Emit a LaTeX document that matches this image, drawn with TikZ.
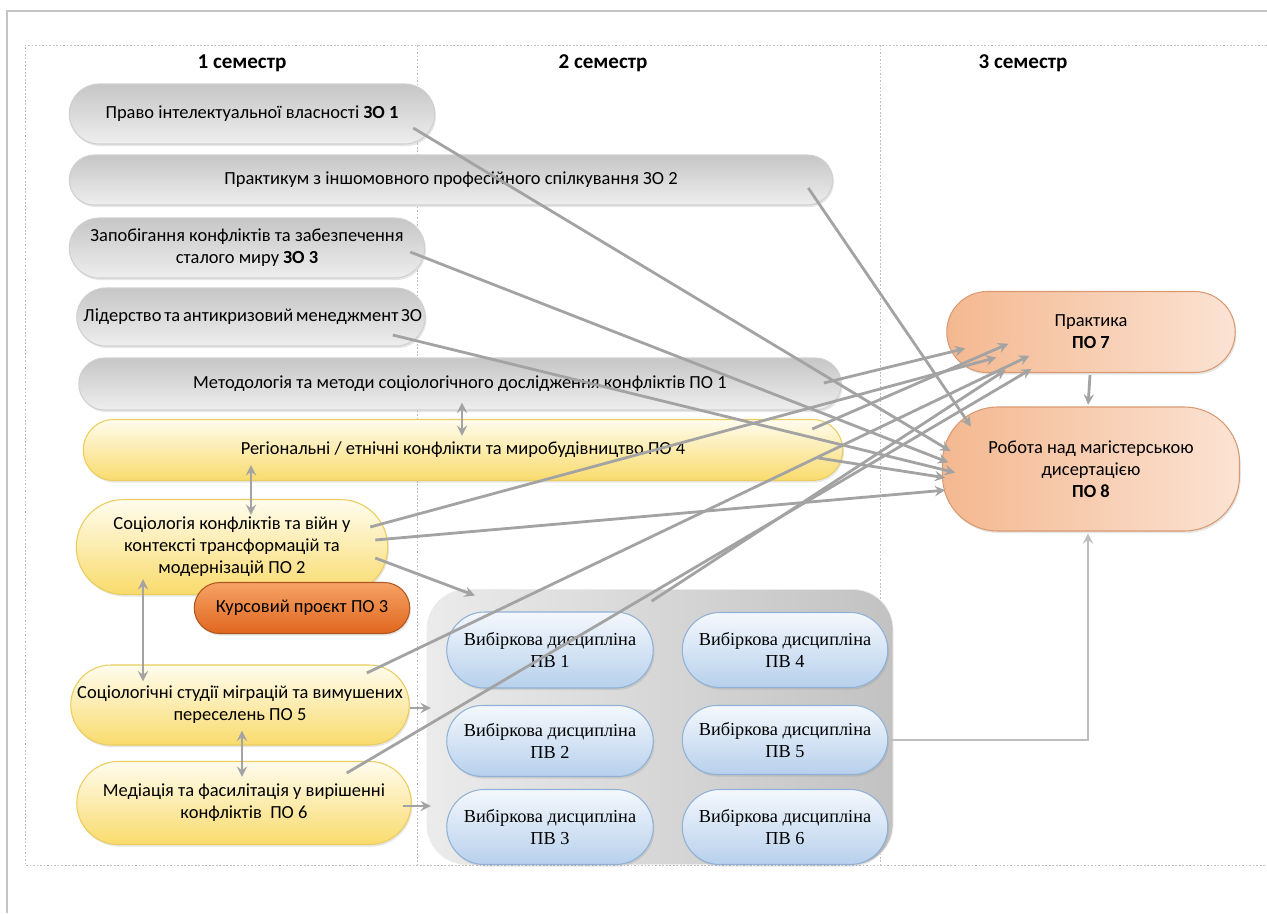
\documentclass[tikz,border=0pt]{standalone}
\usepackage{fontspec}
\setmainfont{Carlito}
\newfontfamily\pvfont{Liberation Serif}
\usetikzlibrary{shapes.misc,shadows}

\definecolor{pageline}{HTML}{C4C4C4}
\definecolor{gridline}{HTML}{BEBEBE}
\definecolor{arrowgrey}{HTML}{A3A3A3}
\definecolor{greyline}{HTML}{D0D0D0}
\definecolor{greytop}{HTML}{C6C6C6}
\definecolor{greybot}{HTML}{EEEEEE}
\definecolor{ylwline}{HTML}{EACD5C}
\definecolor{ylwtop}{HTML}{FFFCEE}
\definecolor{ylwbot}{HTML}{F9DB6C}
\definecolor{ornline}{HTML}{B0561F}
\definecolor{orntop}{HTML}{F6A366}
\definecolor{ornbot}{HTML}{E0661E}
\definecolor{peachline}{HTML}{D99A72}
\definecolor{peachdark}{HTML}{F4B890}
\definecolor{peachlight}{HTML}{FBE3D4}
\definecolor{blueline}{HTML}{8FB1D6}
\definecolor{bluetop}{HTML}{F4F8FD}
\definecolor{bluebot}{HTML}{B7D0EC}
\definecolor{grouplight}{HTML}{EBEBEB}
\definecolor{groupdark}{HTML}{C2C2C2}

\begin{document}
\begin{tikzpicture}[x=0.2mm,y=-0.2mm,>=stealth,font=\fontsize{10.5}{12.5}\selectfont,
    boxsize/.style 2 args={minimum width=#1*0.2mm,minimum height=#2*0.2mm},
    shade/.style={drop shadow={opacity=.2,shadow xshift=.7pt,shadow yshift=-1.2pt}},
    pill/.style={rounded rectangle,align=center,inner sep=1pt,line width=.6pt,shade},
    sem head/.style={font=\bfseries\fontsize{12}{14}\selectfont},
    grey node/.style={pill,draw=greyline,top color=greytop,bottom color=greybot},
    yellow node/.style={pill,draw=ylwline,top color=ylwtop,bottom color=ylwbot},
    course node/.style={pill,draw=ornline,top color=orntop,bottom color=ornbot},
    peach node/.style={pill,draw=peachline,left color=peachdark,right color=peachlight},
    blue node/.style={pill,draw=blueline,top color=bluetop,bottom color=bluebot,font=\pvfont\fontsize{10.4}{12}\selectfont},
    group box/.style={rectangle,rounded corners=8mm,draw=grouplight,left color=grouplight,right color=groupdark},
    grid/.style={gridline,line width=.4pt,dash pattern=on 1pt off 1pt},
    conn/.style={->,color=arrowgrey,line width=1.6pt,shorten >=1pt},
    both/.style={<->,color=arrowgrey,line width=1.6pt}]

    \useasboundingbox (0,0) rectangle (1267,913);
    \draw[pageline,line width=.8pt] (7,913) -- (7,11) -- (1267,11);
    \draw[grid] (1267,45) -- (25,45) -- (25,865) -- (1267,865);
    \draw[grid] (417,45) -- (417,865);
    \draw[grid] (880,45) -- (880,865);

    % semesters
    \node[sem head] (s1) at (242,63) {1 семестр};
    \node[sem head] (s2) at (603,63) {2 семестр};
    \node[sem head] (s3) at (1023,63) {3 семестр};

    % first semester
    \node[grey node,boxsize={369}{60}] (zo1) at (252,114) {Право інтелектуальної власності \textbf{ЗО 1}};
    \node[grey node,boxsize={767}{50}] (zo2) at (451,180) {Практикум з іншомовного професійного спілкування ЗО 2};
    \node[grey node,boxsize={359}{60}] (zo3) at (247,248) {Запобігання конфліктів та забезпечення\\сталого миру \textbf{ЗО 3}};
    \node[grey node,boxsize={352}{58}] (zo4) at (251,317) {\makebox[67mm][s]{Лідерство та антикризовий менеджмент ЗО}};
    \node[grey node,boxsize={766}{52}] (po1) at (460,384) {Методологія та методи соціологічного дослідження конфліктів ПО 1};
    \node[yellow node,boxsize={763}{61}] (po4) at (463,450) {Регіональні / етнічні конфлікти та миробудівництво ПО 4};
    \node[yellow node,boxsize={315}{95}] (po2) at (232,547) {Соціологія конфліктів та війн у\\контексті трансформацій та\\модернізацій ПО 2};
    \node[course node,boxsize={219}{51}] (po3) at (302,608) {Курсовий проєкт ПО 3};
    \node[yellow node,boxsize={330}{80}] (po5) at (240,705) {Соціологічні студії міграцій та вимушених\\переселень ПО 5};
    \node[yellow node,boxsize={338}{83}] (po6) at (244,803) {Медіація та фасилітація у вирішенні\\конфліктів\ \ ПО 6};

    % electives
    \node[group box,boxsize={466}{275}] (pv) at (660,727) {};
    \node[blue node,boxsize={210}{76}] (pv1) at (550,650) {Вибіркова дисципліна\\ПВ 1};
    \node[blue node,boxsize={210}{71}] (pv2) at (550,741) {Вибіркова дисципліна\\ПВ 2};
    \node[blue node,boxsize={210}{75}] (pv3) at (550,827) {Вибіркова дисципліна\\ПВ 3};
    \node[blue node,boxsize={209}{75}] (pv4) at (785,650) {Вибіркова дисципліна\\ПВ 4};
    \node[blue node,boxsize={209}{69}] (pv5) at (785,740) {Вибіркова дисципліна\\ПВ 5};
    \node[blue node,boxsize={209}{75}] (pv6) at (785,827) {Вибіркова дисципліна\\ПВ 6};

    % third semester
    \node[peach node,boxsize={292}{81}] (po7) at (1091,332) {Практика\\\textbf{ПО 7}};
    \node[peach node,rectangle,rounded corners=11mm,boxsize={297}{124}] (po8) at (1091,469) {Робота над магістерською\\дисертацією\\\textbf{ПО 8}};

    \path[conn]
        ([shift={(-22,14)}]zo1.east) edge ([shift={(10,-17)}]po8.west)
        ([shift={(-25,8)}]zo2.east) edge ([shift={(30,-41)}]po8.west)
        ([shift={(-15,4)}]zo3.east) edge ([shift={(8,-6)}]po8.west)
        ([shift={(-33,18)}]zo4.east) edge ([shift={(15,4)}]po8.west)
        ([shift={(-25,8)}]po4.east) edge ([shift={(5,9)}]po8.west)
        ([shift={(-13,-7)}]po2.east) edge ([shift={(5,21)}]po8.west)

        ([shift={(-18,-1)}]po1.east) edge ([shift={(-124,-25)}]po7.south)
        ([shift={(-31,-21)}]po4.east) edge ([shift={(-81,-30)}]po7.south)
        ([shift={(-18,-20)}]po2.east) edge ([shift={(-93,-16)}]po7.south)
        ([shift={(-43,-32)}]po5.east) edge ([shift={(-60,-18)}]po7.south)
        ([shift={(-65,-30)}]po6.east) edge ([shift={(-58,-5)}]po7.south)
        ([shift={(225,12)}]pv.north west) edge ([shift={(-84,-4)}]po7.south)

        ([shift={(-13,11)}]po2.east) edge ([shift={(50,7)}]pv.north west)
        ([shift={(0,3)}]po5.east) edge ([shift={(6,-19)}]pv.west)
        ([shift={(-9,3)}]po6.east) edge ([shift={(6,79)}]pv.west)

        ([shift={(-1,2)}]po7.south) edge ([shift={(-3,0)}]po8.north)
    ;
    \draw[conn,color=gridline] (pv5.east) -| ([shift={(-3,0)}]po8.south);

    \path[both]
        ([shift={(2,-8)}]po1.south) edge ([shift={(-1,17)}]po4.north)
        ([shift={(-212,-16)}]po4.south) edge ([shift={(19,16)}]po2.north)
        ([shift={(-89,-16)}]po2.south) edge ([shift={(-97,17)}]po5.north)
        ([shift={(2,-15)}]po5.south) edge ([shift={(-2,16)}]po6.north)
    ;
\end{tikzpicture}
\end{document}
